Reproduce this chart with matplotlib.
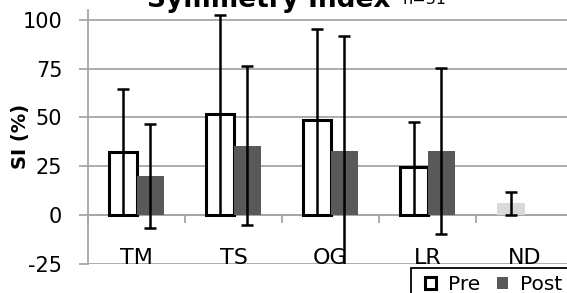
import numpy as np
import matplotlib
matplotlib.use('Agg')
import matplotlib.pyplot as plt
from matplotlib.patches import Patch, Rectangle

categories = ['TM', 'TS', 'OG', 'LR', 'ND']
pre_mean = [32.3, 51.6, 48.4, 24.8, 6.0]
pre_sd = [32.4, 50.8, 47.0, 23.0, 5.8]
post_mean = [20.0, 35.5, 32.5, 32.8, np.nan]
post_sd = [26.7, 40.9, 59.3, 42.4, np.nan]
y_ticks = [-25, 0, 25, 50, 75, 100]

plt.rcParams['font.family'] = ['DejaVu Sans']
plt.rcParams['axes.unicode_minus'] = False
grid_col = '#a6a6a6'
post_col = '#595959'

fig = plt.figure(figsize=(5.67, 2.93), dpi=100)
ax = fig.add_axes([88 / 567, 29.3 / 293, 485 / 567, 253.7 / 293])

x = np.arange(len(categories))
w = 0.28
pre_face = ['white'] * 4 + ['#d9d9d9']
pre_edge = ['black'] * 4 + ['none']

ax.bar(x - w / 2, pre_mean, w, color=pre_face, edgecolor=pre_edge, linewidth=2.2, zorder=3)
ax.bar(x + w / 2, post_mean, w, color=post_col, linewidth=0, zorder=3)
# pre bars: error bar drawn from zero up to mean + SD
ax.errorbar(x - w / 2, pre_mean, yerr=[pre_mean, pre_sd], fmt='none', ecolor='black',
            elinewidth=1.8, capsize=4.6, capthick=1.8, zorder=4)
ax.errorbar(x + w / 2, post_mean, yerr=post_sd, fmt='none', ecolor='black',
            elinewidth=1.8, capsize=4.6, capthick=1.8, zorder=4)

ax.set_xlim(-0.5, len(categories) - 0.5)
ax.set_ylim(-25, 105)
ax.set_yticks(y_ticks)
ax.yaxis.grid(True, color=grid_col, linewidth=1.3, zorder=0)
ax.set_axisbelow(True)
ax.tick_params(axis='y', length=6.5, width=1.3, color=grid_col, labelsize=15, pad=12)

# category axis sits at y = 0
for s in ['top', 'right']:
    ax.spines[s].set_visible(False)
ax.spines['left'].set_color(grid_col)
ax.spines['left'].set_linewidth(1.3)
ax.spines['bottom'].set_position(('data', 0))
ax.spines['bottom'].set_color(grid_col)
ax.spines['bottom'].set_linewidth(1.3)
ax.set_xticks(np.arange(len(categories) + 1) - 0.5)
ax.set_xticklabels([])
ax.tick_params(axis='x', length=6, width=1.3, color=grid_col)
for i, c in enumerate(categories):
    ax.text(i, -25, c, ha='center', va='baseline', fontsize=16, zorder=5)

ax.set_ylabel('SI (%)', fontsize=14, fontweight='bold')
ax.yaxis.set_label_coords(-0.12, 0.5)

fig.text(147 / 567, 1 - 7 / 293, 'Symmetry Index', fontsize=19, fontweight='bold',
         ha='left', va='baseline')
fig.text(403 / 567, 1 - 4.5 / 293, 'n=31', fontsize=11.5, ha='left', va='baseline')

# legend box runs off the bottom-right corner, like the original
fig.patches.append(Rectangle((411 / 567, -0.1), 0.4, 0.1 + 25 / 293, transform=fig.transFigure,
                             facecolor='white', edgecolor='black', linewidth=1.3))
handles = [Patch(facecolor='white', edgecolor='black', linewidth=2.2, label='Pre'),
           Patch(facecolor=post_col, edgecolor='none', label='Post')]
leg = fig.legend(handles=handles, loc='upper left', bbox_to_anchor=(425 / 567, 1 - 275 / 293),
                 ncol=2, fontsize=14.5, frameon=False, borderpad=0,
                 handlelength=0.55, handleheight=0.55, handletextpad=0.6, columnspacing=0.8,
                 borderaxespad=0)

fig.savefig('out.png', dpi=100)
